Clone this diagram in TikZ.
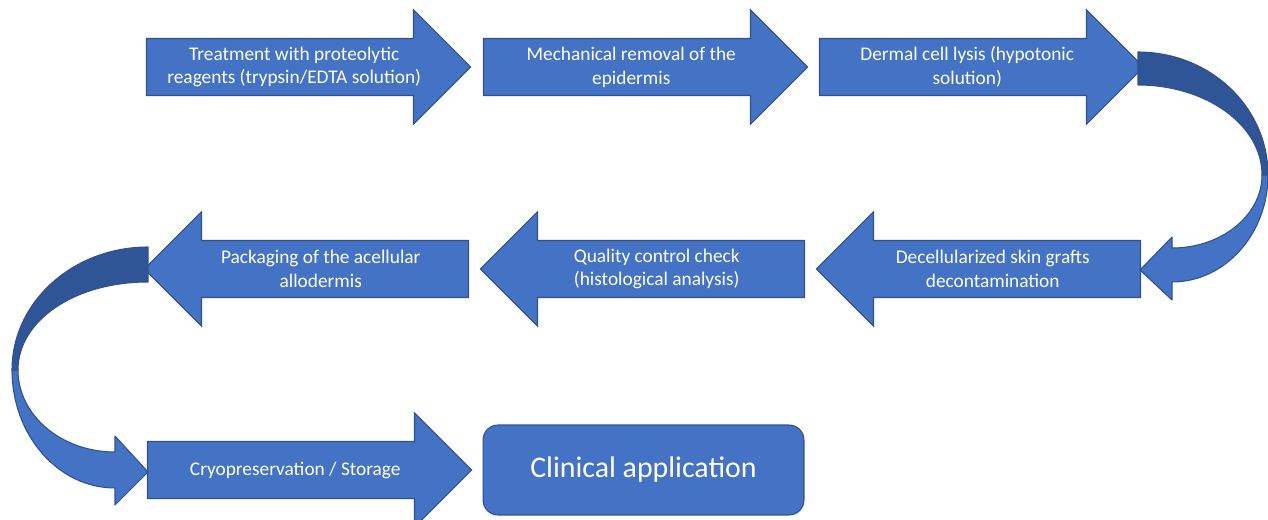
\documentclass[tikz,border=0pt]{standalone}
\usepackage{fontspec}
\setmainfont{Carlito}
\usetikzlibrary{shapes.arrows, positioning}
\definecolor{stepfill}{RGB}{68,114,196}
\definecolor{stepedge}{RGB}{47,82,143}
\definecolor{turnback}{RGB}{47,85,151}

\tikzset{
  stage/.style={single arrow, draw=stepedge, fill=stepfill, line width=0.6pt,
    text=white, inner xsep=0pt, inner ysep=0pt,
    minimum width=2.26cm, single arrow head extend=0.57cm,
    font=\fontsize{11}{13.6}\selectfont,
    execute at begin node={\begin{minipage}[c][1.12cm][c]{5.89cm}\centering},
    execute at end node={\end{minipage}}},
  stageback/.style={stage, shape border rotate=180},
  clinic/.style={rectangle, rounded corners=0.3cm, draw=stepedge, fill=stepfill,
    line width=0.6pt, text=white, minimum width=6.42cm, minimum height=1.8cm,
    font=\fontsize{17}{20}\selectfont},
  turn/.style={draw=stepedge, line width=0.6pt, line join=round}
}

\begin{document}
\begin{tikzpicture}[x=0.02cm, y=-0.02cm]
\useasboundingbox (0,0) rectangle (1268,520);

\node[stage] (st1) at (294.25,67) {Treatment with proteolytic\\reagents (trypsin/EDTA solution)};
\node[stage] (st2) at (631.25,67) {Mechanical removal of the\\epidermis};
\node[stage] (st3) at (967.25,67) {Dermal cell lysis (hypotonic\\solution)};

\node[stageback] (st4) at (992.75,269) {Decellularized skin grafts\\decontamination};
\node[stageback] (st5) at (656.75,269) {Quality control check\\(histological analysis)};
\node[stageback] (st6) at (320.75,269) {Packaging of the acellular\\allodermis};

\node[stage] (st7) at (295.25,470) {Cryopreservation / Storage};
\node[clinic] (clin) at (643.5,470) {Clinical application};

\draw[turn, fill=turnback] (1138,52) .. controls (1210,52) and (1268,107) .. (1268,175)
      -- (1262,175) .. controls (1262,125) and (1206,85) .. (1138,85) -- cycle;
\draw[turn, fill=stepfill] (1268,175) .. controls (1268,234) and (1225,282) .. (1172,282)
      -- (1172,300) -- (1140,270) -- (1172,237) -- (1172,248)
      .. controls (1222,248) and (1262,215) .. (1262,175) -- cycle;

\draw[turn, fill=turnback] (148,247) .. controls (73,247) and (12,302) .. (12,370)
      -- (18,370) .. controls (18,321) and (74,282) .. (148,282) -- cycle;
\draw[turn, fill=stepfill] (12,370) .. controls (12,435) and (58,488) .. (115,488)
      -- (115,505) -- (148,472) -- (115,436) -- (115,452)
      .. controls (61,452) and (18,415) .. (18,370) -- cycle;

\end{tikzpicture}
\end{document}
